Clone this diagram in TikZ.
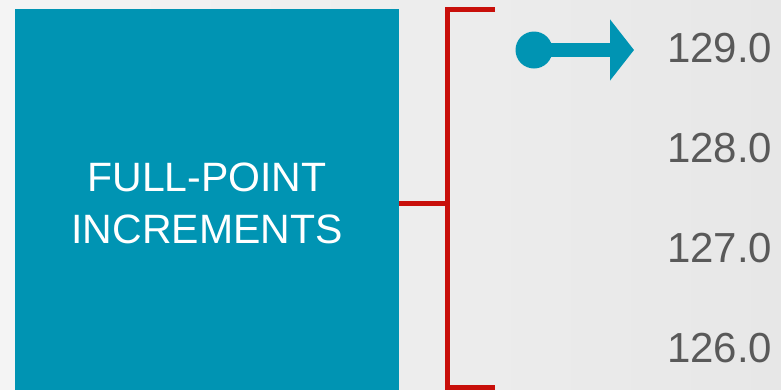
\documentclass[tikz,border=0pt]{standalone}
\usepackage{fontspec}
\setmainfont{Liberation Sans}
\usepackage{xcolor}
\usepackage{tikz}
\usetikzlibrary{arrows.meta,positioning,calc}
\definecolor{tealc}{HTML}{0094B3}
\definecolor{redc}{HTML}{C80F0A}
\definecolor{grayc}{HTML}{595959}
\definecolor{bgA}{HTML}{F4F4F4}
\definecolor{bgB}{HTML}{E7E7E7}
\tikzset{
  tealbox/.style={fill=tealc, text=white, align=center, minimum width=384pt, minimum height=388pt, inner sep=0pt, font=\fontsize{41}{52}\selectfont},
  lvl/.style={anchor=base west, inner sep=0pt, text=grayc, font=\fontsize{42}{50}\selectfont},
  bracket/.style={draw=redc, line width=5pt},
  pin/.style={circle, fill=tealc, minimum size=37pt, inner sep=0pt},
  pointer/.style={draw=tealc, line width=14pt, -{Triangle[length=24pt, width=60pt]}}
}
\begin{document}
\begin{tikzpicture}[x=1pt, y=-1pt]
    \shade[shading angle=135, left color=bgA, right color=bgB] (0,0) rectangle (781,389);
    \useasboundingbox (0,0) rectangle (781,389);
    \node[tealbox] (incr) at (207,203) {FULL-POINT\\INCREMENTS};
    % bracket
    \coordinate (brtop) at (495,9.5);
    \coordinate (brtopc) at (447.5,9.5);
    \coordinate (brbotc) at (447.5,387);
    \coordinate (brbot) at (495,387);
    \draw[bracket] (brtop) -- (brtopc) -- (brbotc) -- (brbot);
    \draw[bracket] (incr.east) -- (incr.east -| brtopc);
    % levels
    \node[lvl] (lvl129) at (667,62) {129.0};
    \node[lvl] (lvl128) at (667,162) {128.0};
    \node[lvl] (lvl127) at (667,262) {127.0};
    \node[lvl] (lvl126) at (667,362) {126.0};
    % pointer
    \node[pin] (dot) at (534,50) {};
    \coordinate (tip) at (634,50);
    \draw[pointer] (dot.center) -- (tip);
\end{tikzpicture}
\end{document}
